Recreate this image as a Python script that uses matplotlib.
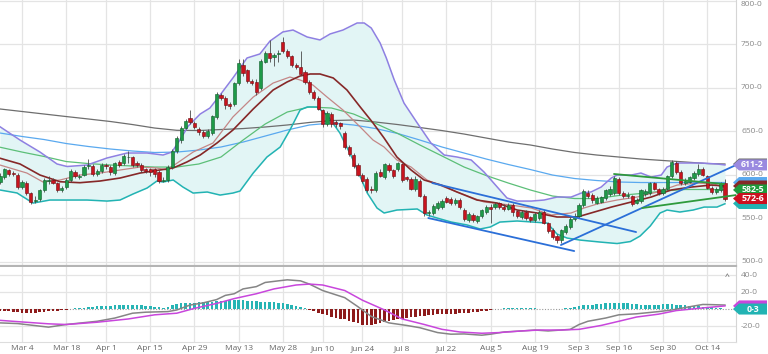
import numpy as np
import matplotlib
matplotlib.use("Agg")
import matplotlib.pyplot as plt
from matplotlib.patches import Polygon
from matplotlib import transforms

plt.rcParams['font.family'] = ['Open Sans', 'DejaVu Sans']

# ---------------- data ----------------
tick_labels = ["Mar 4", "Mar 18", "Apr 1", "Apr 15", "Apr 29", "May 13", "May 28", "Jun 10",
               "Jun 24", "Jul 8", "Jul 22", "Aug 5", "Aug 19", "Sep 3", "Sep 16", "Sep 30", "Oct 14"]
tick_idx = [0, 10, 19, 29, 39, 49, 59, 68, 77, 86, 96, 106, 116, 126, 135, 145, 155]

day_idx = list(range(-5, 160))

opens = [592,597,605,602,600, 586,591,579,570,572, 582,593,594,591,582, 586,594,603,597,600,
         610,610,601,604,611, 609,602,615,613,620, 620,614,611,606,606, 606,603,593,594,609,
         627,640,654,665,659, 653,649,644,648,666, 692,688,681,681,705, 726,720,708,707,700,
         730,740,735,739,752, 742,736,726,724,718, 707,695,688,674,658, 670,661,659,648,632,
         623,611,600,595,583, 582,603,597,611,605, 606,612,597,595,583, 593,576,556,556,562,
         563,573,572,567,571, 560,548,554,547,552, 557,563,563,567,563, 561,565,558,551,557,
         551,548,550,557,544, 537,530,525,534,540, 549,552,565,579,577, 568,569,573,578,579,
         595,579,576,575,568, 570,578,579,590,583, 579,584,598,614,603, 591,592,596,601,606,
         598,585,580,582,590]
highs = [602,608,607,604,602, 594,593,580,575,584, 596,598,596,592,587, 596,606,605,601,611,
         618,612,606,613,614, 611,615,617,624,627, 622,616,613,608,608, 608,605,597,611,629,
         644,656,664,674,662, 655,651,652,669,695, 694,690,683,707,733, 733,722,710,710,733,
         742,755,740,743,758, 744,738,728,742,720, 709,697,690,676,673, 672,663,661,650,634,
         625,613,602,597,587, 604,606,614,613,607, 615,614,599,597,598, 595,578,559,566,570,
         572,576,574,573,573, 562,557,556,554,561, 565,566,569,569,566, 567,567,560,559,559,
         553,557,559,559,546, 539,532,538,543,551, 556,567,583,582,579, 575,576,584,587,598,
         597,581,580,577,573, 584,584,592,592,585, 586,600,617,616,605, 596,599,604,612,609,
         600,587,586,592,595]
lows = [589,595,599,598,584, 584,577,566,568,570, 580,589,589,580,580, 584,592,596,595,598,
        606,599,599,602,607, 600,600,609,611,613, 609,609,603,602,598, 597,590,592,592,607,
        625,636,652,658,653, 646,642,642,646,664, 686,676,676,679,703, 713,705,703,692,697,
        728,730,725,730,740, 734,724,722,714,704, 693,686,674,655,656, 655,655,653,630,622,
        608,598,590,580,579, 580,597,595,603,596, 604,592,593,582,581, 574,553,552,554,560,
        561,567,565,565,561, 547,546,546,545,550, 555,545,561,561,558, 559,553,550,549,548,
        546,546,548,543,533, 526,522,521,532,538, 547,550,563,573,568, 566,567,571,576,577,
        577,573,573,564,566, 568,576,577,582,577, 577,582,596,601,588, 588,590,594,599,598,
        583,578,578,580,570]
closes = [599,606,601,601,586, 592,579,569,571,582, 594,594,591,582,585, 594,604,598,598,609,
          611,601,604,611,610, 603,613,611,621,620.5, 611,611,605,604,603, 601,593,594,609,627,
          642,654,662,660,655, 649,644,650,667,693, 688,680,679,705,728, 717,708,705,695,731,
          740,734,737,740,742, 736,726,724,716,706, 695,688,676,658,671, 658,658,656,632,624,
          610,600,593,582,582, 602,599,612,605,598, 613,594,595,584,595, 576,556,557,564,568,
          570,569,567,571,563, 549,555,548,552,559, 563,561,566,563,561, 565,557,552,557,550,
          548,555,557,545,535, 528,525,536,541,549, 553,565,581,575,571, 573,574,582,584,596,
          579,575,577,566,571, 582,581,590,584,579, 584,598,615,603,590, 593,597,602,607,600,
          585,580,584,590,572.6]

# Bollinger bands (read at their own positions)
upper_idx = [-4.98, -0.45, 4.07, 7.92, 10.18, 14.71, 19.23, 23.76, 28.28, 31.9, 33.9, 35.7, 37.6,
             40.3, 42.5, 44.8, 47.7, 50.9, 53.8, 56.1, 59.0, 61.3, 64.5, 67.4, 69.7, 72.6, 75.8,
             77.4, 79.0, 81.0, 82.4, 84.2, 86.4, 89.4, 92.5, 95.5, 98.4, 101.6, 104.5, 107.5,
             109.7, 112.0, 115.2, 118.1, 121.0, 124.2, 126.5, 128.7, 131.0, 133.3, 134.6, 137.8,
             140.0, 142.3, 144.6, 145.9, 148.2, 151.4, 153.6, 157.2, 159]
upper_bb = [655.1, 639.8, 626.0, 612.3, 609.4, 611.1, 619.2, 624.9, 624.9, 622.6, 626.0, 639.8,
            655.9, 669.7, 676.6, 691.5, 711.1, 734.1, 738.7, 753.6, 764.0, 766.2, 758.2, 754.8,
            761.7, 766.2, 774.3, 774.3, 768.5, 751.3, 734.1, 708.8, 682.3, 659.4, 636.4, 622.6,
            620.3, 616.9, 603.1, 585.8, 573.2, 569.7, 569.7, 570.9, 574.3, 574.3, 578.9, 580.1,
            585.8, 596.2, 599.6, 599.6, 601.9, 597.3, 599.6, 608.8, 613.4, 613.4, 613.4, 612.3,
            611.2]
lower_idx = [-4.98, -1.13, 2.49, 6.33, 10.18, 14.71, 19.23, 22.17, 25.1, 28.3, 30.5, 31.9, 34.2,
             36.4, 38.7, 41.9, 44.8, 47.7, 49.3, 52.3, 55.4, 58.4, 60.6, 62.9, 64.5, 66.7, 69.0,
             71.9, 74.9, 78.1, 80.3, 81.9, 84.8, 89.4, 91.6, 93.9, 97.1, 100.7, 103.6, 105.9,
             108.1, 112.0, 115.6, 118.8, 121.0, 123.3, 126.2, 130.8, 134.6, 137.6, 139.8, 142.1,
             144.3, 145.9, 148.8, 151.8, 154.3, 157.2, 159]
lower_bb = [582.4, 579.0, 567.4, 570.9, 570.9, 570.9, 569.7, 570.9, 577.8, 584.7, 592.7, 591.6,
            593.9, 585.8, 578.9, 580.1, 576.6, 578.9, 581.2, 601.9, 620.3, 631.8, 651.3, 674.3,
            677.8, 677.8, 668.6, 647.9, 616.9, 578.9, 561.7, 556.0, 559.4, 560.6, 553.7, 550.2,
            545.6, 542.2, 537.6, 539.9, 545.6, 546.8, 545.6, 544.4, 531.8, 527.2, 524.9, 522.6,
            520.9, 523.2, 529.5, 541.0, 555.9, 559.4, 557.1, 559.4, 562.8, 562.8, 566.6]

# moving averages
dark_idx = [-4.98, -0.45, 4.07, 8.6, 13.1, 17.6, 22.2, 26.7, 31.2, 34.2, 37.3, 40.3, 44.1, 47.7,
            52.3, 56.8, 59.95, 62.9, 65.2, 67.4, 70.4, 73.5, 76.5, 79.4, 81.9, 84.8, 88.0,
            90.95, 94.8, 98.4, 102.9, 107.5, 112.0, 116.5, 121.0, 125.6, 128.7, 133.3, 137.8,
            142.3, 146.8, 151.4, 155.9, 159]
ma_dark = [618.9, 612.3, 599.6, 591.9, 590.8, 592.7, 596.2, 601.9, 605.4, 607.7, 614.6, 622.6,
           636.4, 651.3, 675.5, 697.3, 706.5, 713.4, 715.7, 715.7, 711.1, 697.3, 677.8, 659.4,
           642.1, 620.3, 605.4, 593.9, 588.1, 580.1, 570.9, 567.4, 559.4, 556.0, 551.4, 551.4,
           556.0, 562.8, 568.6, 574.3, 582.4, 585.8, 588.1, 587.0]
light_idx = [-4.98, 1.1, 4.75, 8.6, 13.1, 17.6, 22.2, 26.7, 30.5, 32.8, 35.1, 38.7, 43.2, 47.7,
             52.3, 56.8, 60.6, 62.9, 65.8, 69.0, 72.6, 76.5, 79.4, 81.9, 84.8, 88.0, 91.6, 95.5,
             98.4, 104.5, 110.6, 115.2, 119.7, 124.2, 127.1, 130.1, 134.6, 139.1, 143.7, 148.2,
             152.7, 156.6, 159]
ma_light = [611.1, 601.9, 591.6, 593.9, 599.6, 601.9, 605.4, 608.8, 607.7, 605.4, 613.4, 626.0,
            636.4, 666.3, 689.2, 705.3, 712.2, 708.8, 703.0, 689.2, 674.3, 654.8, 639.8, 631.8,
            616.9, 608.8, 593.9, 585.8, 580.1, 568.6, 565.1, 561.7, 553.7, 556.0, 561.7, 566.3,
            570.9, 574.3, 580.1, 588.1, 590.4, 589.3, 584.7]
ind_idx = [-5, 0, 5, 10, 15, 20, 25, 30, 35, 40, 45, 50, 55, 60, 65, 70, 75, 80, 85, 90,
           95, 100, 105, 110, 115, 120, 125, 130, 135, 140, 145, 150, 155, 159]
ma_green = [631.6, 626.0, 620.9, 615.1, 612.8, 611.1, 610.0, 608.8, 608.8, 612.3, 620.3, 639.8,
            658.2, 672.0, 677.8, 676.6, 669.7, 658.8, 647.3, 634.1, 621.5, 608.8, 599.0, 590.4,
            582.4, 575.5, 572.6, 572.6, 576.1, 578.4, 581.2, 583.0, 583.0, 582.5]
ma_blue = [647.9, 643.9, 640.4, 635.8, 632.4, 629.5, 627.2, 625.5, 626.0, 628.3, 631.8, 637.5,
           644.4, 651.3, 657.1, 659.4, 657.1, 653.0, 647.3, 639.8, 631.8, 624.9, 618.0, 611.7,
           605.9, 599.6, 595.6, 593.3, 591.6, 591.0, 591.0, 591.0, 591.0, 591.0]
ma_gray = [675.5, 672.6, 669.7, 666.8, 664.0, 661.1, 657.6, 653.6, 651.0, 650.7, 651.9, 653.0,
           654.8, 657.1, 660.0, 662.2, 662.8, 660.5, 657.6, 654.2, 650.7, 646.7, 642.1, 637.5,
           634.1, 629.5, 625.5, 622.6, 620.3, 618.0, 616.3, 614.6, 612.8, 612.3]

# trend lines: (start day, start price, end day, end price, colour)
trend_lines = [
    (92.8, 590.4, 138.9, 534.1, '#2b6fd8'),
    (91.9, 550.2, 124.9, 512.3, '#2b6fd8'),
    (121.9, 519.2, 161.5, 611.1, '#2b6fd8'),
    (133.9, 600.8, 158.8, 589.3, '#2e9a3c'),
    (140.3, 561.7, 161.5, 576.6, '#2e9a3c'),
]

# MACD panel
macd_idx = [-5, -1, 4, 6, 10, 17, 21, 25, 28, 33, 35, 38, 41, 44, 46, 48, 50, 53, 55, 58, 60,
            63, 65, 68, 73, 76, 79, 83, 87, 90, 94, 97, 100, 104, 106, 109, 113, 116, 119, 124,
            126, 128, 132, 135, 139, 144, 147, 151, 154, 156, 159]
macd_line = [-16, -16.8, -19.8, -21, -17.9, -14.1, -10.3, -4.6, -3.4, -2.7, -0.8, 5, 7.6, 11.4,
             16.4, 18.3, 24, 26.7, 31.6, 33.5, 34.7, 33.5, 29.7, 22.1, 13.7, 3, -8.4, -16, -19,
             -21.7, -27.4, -29.3, -29, -30.5, -29.3, -26.7, -25.5, -24.4, -25.5, -23.6, -17.9,
             -14.1, -10.3, -6.5, -5.3, -2.7, -0.8, 3, 5.7, 5.5, 5]
sig_idx = [-5, 0, 6, 10, 17, 24, 30, 35, 39, 44, 48, 53, 57, 62, 65, 68, 73, 77, 82, 86, 91, 95,
           99, 104, 108, 113, 117, 122, 126, 131, 135, 139, 144, 148, 153, 159]
signal_line = [-13, -14.9, -17.1, -17.9, -15.2, -11.4, -6.5, -4.6, 1.1, 6.9, 12.6, 18.3, 24,
               28.6, 29.7, 28.6, 22.1, 10.7, -0.8, -11.4, -17.9, -23.6, -26.7, -28.2, -27.4,
               -25.5, -24.4, -24.4, -23.6, -19, -14.1, -9.1, -5.7, -1.5, 1.1, 4]
histogram = [-1.5, -2, -2.5, -3, -3.5, -4, -4, -4, -3.8, -3.5, -3, -2.5, -2, -1.5, -1, -0.5,
             0.5, 1, 1.5, 2, 2.5, 3, 3.3, 3.6, 4, 4.2, 4.5, 4.7, 5, 5, 5, 4.8, 4.5, 4, 3.5, 3,
             2.5, 2,
             3, 5, 6.5, 7, 7.5, 7.8, 8, 8.2, 8.5, 8.7, 9, 9.5, 10, 10.3, 10.5, 10.8, 11, 10.5,
             10, 9.5, 9.2, 9, 8.8, 8.5, 8.2, 7.8, 7, 6, 5, 4, 2.5, 1,
             -1, -2.5, -4, -5.5, -7, -8.5, -10, -11, -12, -13.5, -15, -16.5, -18, -18.5, -18,
             -17, -16, -15, -14, -13, -12, -11, -10, -9, -8.5, -8, -7.5, -7, -6.5, -6, -5.8,
             -5.5, -5.2, -5, -4.6, -4.2, -3.8, -3.4, -3, -2.4, -1.6, -0.8,
             0.5, 0.8, 1, 1.2, 1.5, 1.5, 1.5, 1.3, 1.2, 1, 0.8, 0.5, 0.5, 0.3, 0.3, 0.5,
             1, 2, 3, 4, 4.5, 5, 5.5, 6, 6.5, 7, 7.5, 7.8, 7.8, 7.5, 7, 6.5, 6, 5.5, 5, 5, 5.2,
             5.5, 5.8, 6, 5.8, 5.5, 5, 4.5, 4.2, 4, 3.5, 3.2, 3, 2.5, 2, 1.2, 0.3]

price_ticks = [500, 550, 600, 650, 700, 750, 800]
macd_ticks = [-20, 20, 40]

# ---------------- figure ----------------
W, H = 768, 354
fig = plt.figure(figsize=(W / 100, H / 100), dpi=100)
ax = fig.add_axes([0, 88 / H, 736 / W, 266 / H])
ax2 = fig.add_axes([0, 12 / H, 736 / W, 75 / H])
XMIN, XMAX = -4.98, 161.5

GRID = '#e4e4e4'
# main panel: band fill between the two bands on a common grid of their own read positions
fill_x = sorted(set(upper_idx) | set(lower_idx))
ax.fill_between(fill_x, np.interp(fill_x, lower_idx, lower_bb), np.interp(fill_x, upper_idx, upper_bb),
                color='#e2f5f5', lw=0, zorder=1)
ax.plot(ind_idx, ma_gray, color='#6e6e6e', lw=0.9, zorder=2)
ax.plot(ind_idx, ma_blue, color='#5aa9ef', lw=0.9, zorder=2)
ax.plot(ind_idx, ma_green, color='#5cbf78', lw=0.9, zorder=2)
ax.plot(light_idx, ma_light, color='#c48686', lw=0.9, zorder=2)
ax.plot(dark_idx, ma_dark, color='#862828', lw=1.2, zorder=2)
ax.plot(upper_idx, upper_bb, color='#8e80e2', lw=1.1, zorder=3)
ax.plot(lower_idx, lower_bb, color='#22b3b3', lw=1.1, zorder=3)

o = np.array(opens, float); c = np.array(closes, float)
hi = np.array(highs, float); lo = np.array(lows, float)
xd = np.array(day_idx)
up = c >= o
ax.vlines(xd, lo, hi, color='#4a4a4a', lw=0.6, zorder=4)
bottoms = np.minimum(o, c)
heights = np.maximum(np.abs(c - o), 0.9)
ax.bar(xd, heights, bottom=bottoms, width=0.72,
       color=np.where(up, '#1e9a48', '#c8141e'),
       edgecolor=np.where(up, '#0f5c2a', '#6e0a10'), lw=0.4, zorder=5)

for x0, y0, x1, y1, col in trend_lines:
    ax.plot([x0, x1], [y0, y1], color=col, lw=1.3, zorder=6, solid_capstyle='round')

ax.set_xlim(XMIN, XMAX)
ax.set_ylim(495.1, 800.7)
ax.set_xticks(tick_idx)
ax.set_yticks(price_ticks)
ax.grid(True, color=GRID, lw=0.9)
ax.set_axisbelow(True)
ax.tick_params(length=0, labelleft=False, labelbottom=False)
for s in ['top', 'left']:
    ax.spines[s].set_visible(False)
ax.spines['right'].set_color('#d5d5d5'); ax.spines['right'].set_linewidth(0.8)
ax.spines['bottom'].set_color('#b4b4b4'); ax.spines['bottom'].set_linewidth(1.6)

blend = transforms.blended_transform_factory(ax.transAxes, ax.transData)
for v in price_ticks:
    ax.text(1.0068, v, f"{v}-0", transform=blend, fontsize=6, color='#888888',
            ha='left', va='top' if v == 800 else 'center', clip_on=False)

# MACD panel
hv = np.array(histogram)
ax2.bar(xd, hv, width=0.6, color=np.where(hv >= 0, '#27b4b4', '#8e1b1b'), lw=0, zorder=3)
ax2.axhline(0, color='#9a9a9a', lw=0.8, ls=(0, (1, 1.5)), zorder=2)
ax2.plot(macd_idx, macd_line, color='#858585', lw=1.1, zorder=4)
ax2.plot(sig_idx, signal_line, color='#c846dc', lw=1.1, zorder=4)
ax2.set_xlim(XMIN, XMAX)
ax2.set_ylim(-38.5, 49.8)
ax2.set_xticks(tick_idx)
ax2.set_xticklabels(tick_labels, fontsize=6, color='#666666')
ax2.set_yticks(macd_ticks)
ax2.grid(True, color=GRID, lw=0.9)
ax2.set_axisbelow(True)
ax2.tick_params(length=0, labelleft=False, pad=2.5)
for s in ['top', 'left']:
    ax2.spines[s].set_visible(False)
ax2.spines['right'].set_color('#d5d5d5'); ax2.spines['right'].set_linewidth(0.8)
ax2.spines['bottom'].set_color('#dddddd'); ax2.spines['bottom'].set_linewidth(0.8)
blend2 = transforms.blended_transform_factory(ax2.transAxes, ax2.transData)
for v in macd_ticks:
    ax2.text(1.0068, v, f"{v}-0", transform=blend2, fontsize=6, color='#888888',
             ha='left', va='center', clip_on=False)
ax2.text(0.988, 38, "^", transform=blend2, fontsize=6, color='#555555', ha='center', va='center')


def tag(axis, val, color, label=None):
    yd = axis.transData.transform((0, val))[1]
    h = 5.5
    pts = [(733, yd), (739, yd + h), (767, yd + h), (767, yd - h), (739, yd - h)]
    fig.add_artist(Polygon([(px / W, py / H) for px, py in pts], closed=True,
                           transform=fig.transFigure, facecolor=color, edgecolor='none',
                           zorder=10))
    if label:
        fig.text(752.5 / W, yd / H, label, color='white', fontsize=6.3, fontweight='bold',
                 ha='center', va='center', zorder=11)


tag(ax, ma_gray[-1], '#6e6e6e')
tag(ax, ma_blue[-1], '#5aa9ef')
tag(ax, ma_dark[-1], '#862828')
tag(ax, 566.9, '#22b3b3')
tag(ax, upper_bb[-1], '#9a8ae0', "611-2")
tag(ax, ma_green[-1], '#1f9a3c', "582-5")
tag(ax, closes[-1], '#cc1020', "572-6")
tag(ax2, signal_line[-1], '#c846dc')
tag(ax2, histogram[-1], '#22b3b3', "0-3")

fig.savefig("out.png", dpi=100)
